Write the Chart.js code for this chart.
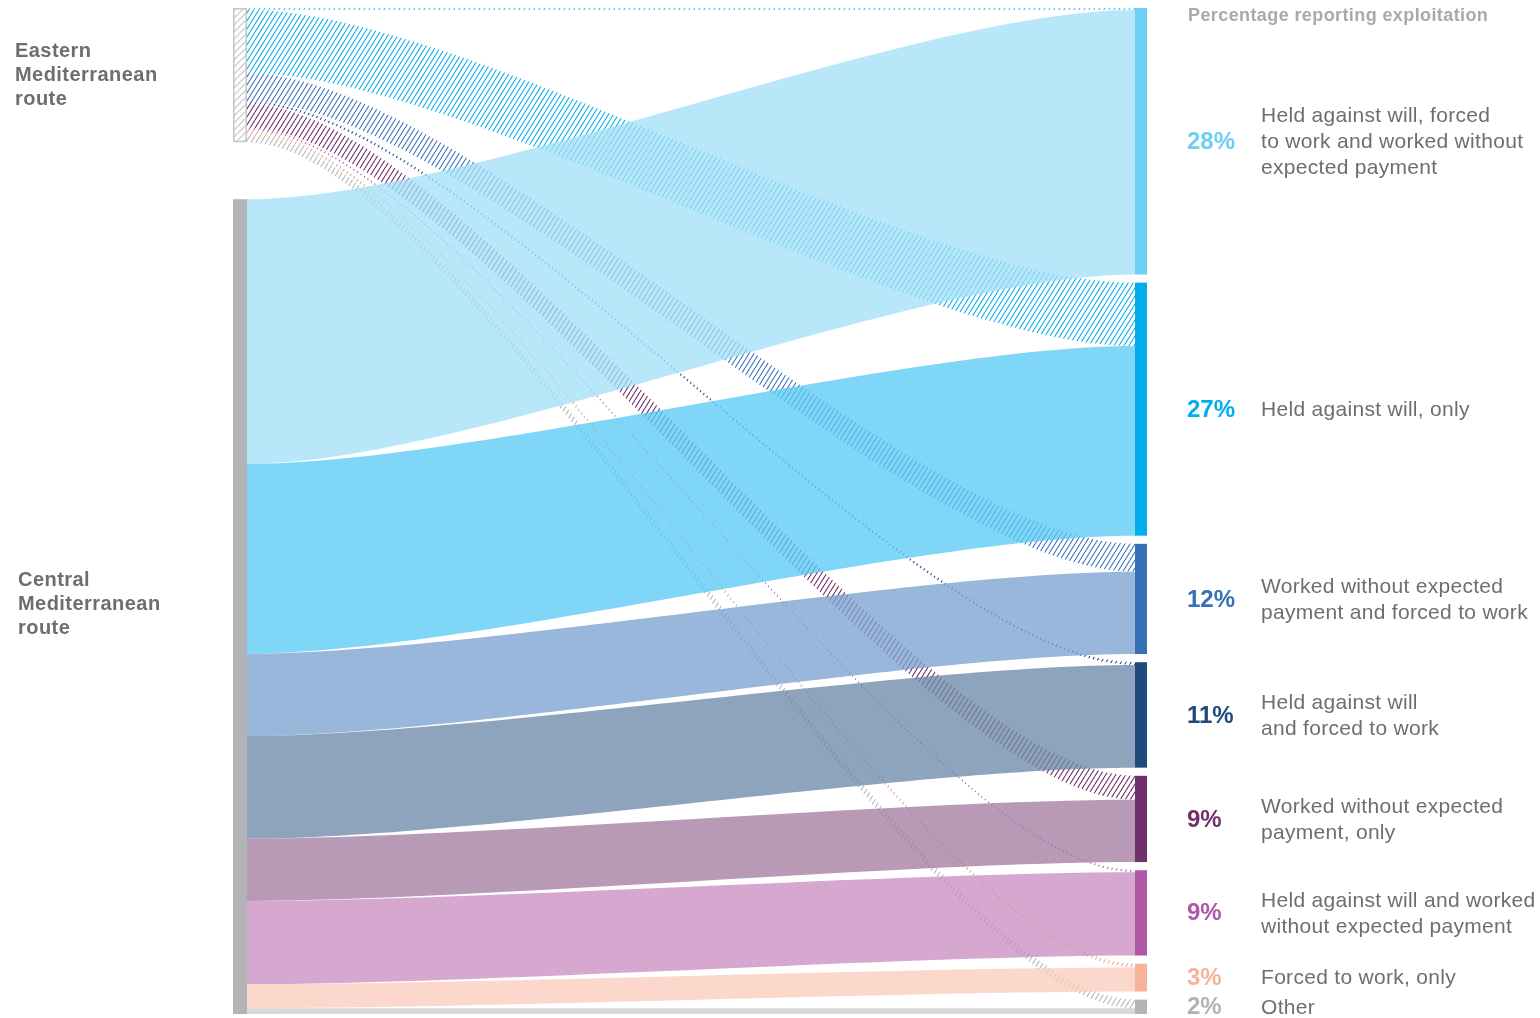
<!DOCTYPE html>
<html><head><meta charset="utf-8">
<script src="https://cdn.jsdelivr.net/npm/chart.js@4.4.0/dist/chart.umd.min.js"></script>
<style>html,body{margin:0;padding:0;background:#fff;overflow:hidden}#wrap{width:1540px;height:1018px;position:relative}</style>
</head><body><div id="wrap"><canvas id="c" width="1540" height="1018"></canvas></div>
<script>
// ---------- DATA ----------
const routes = ['Eastern Mediterranean route', 'Central Mediterranean route'];
const routeLabelLines = [['Eastern', 'Mediterranean', 'route'], ['Central', 'Mediterranean', 'route']];
const categories = [
  'Held against will, forced to work and worked without expected payment',
  'Held against will, only',
  'Worked without expected payment and forced to work',
  'Held against will and forced to work',
  'Worked without expected payment, only',
  'Held against will and worked without expected payment',
  'Forced to work, only',
  'Other'
];
const categoryLines = [
  ['Held against will, forced', 'to work and worked without', 'expected payment'],
  ['Held against will, only'],
  ['Worked without expected', 'payment and forced to work'],
  ['Held against will', 'and forced to work'],
  ['Worked without expected', 'payment, only'],
  ['Held against will and worked', 'without expected payment'],
  ['Forced to work, only'],
  ['Other']
];
const pctLabels = ['28%', '27%', '12%', '11%', '9%', '9%', '3%', '2%'];
// share of all respondents (percentage points) flowing from each route to each category
const easternFlows = [0.2, 6.6, 2.9, 0.3, 2.5, 0.2, 0.4, 0.9];
const centralFlows = [27.6, 19.8, 8.6, 10.7, 6.5, 8.7, 2.5, 0.6];
const titleText = 'Percentage reporting exploitation';

// ---------- STYLE ----------
const nodeColors = ['#6dcff6', '#00aeef', '#3471b6', '#1f4a7d', '#71306b', '#ae58a6', '#f7b397', '#b1b3b6'];
const flowColors = ['#b7e7f9', '#7fd6f7', '#98b7da', '#8ea3bc', '#b899b6', '#d6a8d0', '#fbd8cb', '#d8d9db'];
const hatchColors = ['#45c3f3', '#0aaeec', '#3a72b8', '#244f84', '#6e2d66', '#b05aa8', '#f4a98a', '#b4b6b9'];
const flowAlpha = 0.78;
const rightGap = 0.85;   // gap between category nodes (value units)
const leftNodeW = 14, rightNodeW = 12;
const curveD = 0.25;

const easternSum = easternFlows.reduce((a, b) => a + b, 0);
const centralSum = centralFlows.reduce((a, b) => a + b, 0);
const rightTotals = easternFlows.map((v, i) => v + centralFlows[i]);
const yMax = rightTotals.reduce((a, b) => a + b, 0) + rightGap * (rightTotals.length - 1);

// colour that, drawn with alpha a over white, appears as hex
function seeThrough(hex, a) {
  const n = parseInt(hex.slice(1), 16);
  const ch = [(n >> 16) & 255, (n >> 8) & 255, n & 255].map(v => Math.max(0, Math.round((v - 255 * (1 - a)) / a)));
  return `rgba(${ch[0]},${ch[1]},${ch[2]},${a})`;
}

function hatchPattern(ctx, color, w, h, lw) {
  const c = document.createElement('canvas');
  c.width = w; c.height = h;
  const g = c.getContext('2d');
  g.strokeStyle = color; g.lineWidth = lw;
  g.beginPath();
  for (const dx of [-w, 0, w]) { g.moveTo(dx, h); g.lineTo(dx + w, 0); }
  g.stroke();
  return ctx.createPattern(c, 'repeat');
}

function flowPath(ctx, x0, y0t, y0b, x1, y1t, y1b) {
  const L = x1 - x0;
  const c0 = x0 + L * curveD, c1 = x1 - L * curveD;
  ctx.beginPath();
  ctx.moveTo(x0, y0t);
  ctx.bezierCurveTo(c0, y0t, c1, y1t, x1, y1t);
  ctx.lineTo(x1, y1b);
  ctx.bezierCurveTo(c1, y1b, c0, y0b, x0, y0b);
  ctx.closePath();
}

function multiline(ctx, lines, x, c, lh) {
  lines.forEach((ln, j) => ctx.fillText(ln, x, c + (j - (lines.length - 1) / 2) * lh));
}

const sankeyPlugin = {
  id: 'sankey',
  afterDraw(chart) {
    const ctx = chart.ctx;
    const sx = chart.scales.x, sy = chart.scales.y;
    const xL0 = sx.getPixelForValue(0), xL1 = xL0 + leftNodeW;
    const xR1 = sx.getPixelForValue(1), xR0 = xR1 - rightNodeW;
    const Y = v => sy.getPixelForValue(v);

    const eastTop = 0, centralTop = yMax - centralSum;
    const rightTop = [];
    let acc = 0;
    rightTotals.forEach(t => { rightTop.push(acc); acc += t + rightGap; });

    ctx.save();
    // eastern flows (hatched) underneath
    let le = eastTop;
    easternFlows.forEach((v, i) => {
      const rt = rightTop[i];
      flowPath(ctx, xL1, Y(le), Y(le + v), xR0, Y(rt), Y(rt + v));
      ctx.fillStyle = hatchPattern(ctx, hatchColors[i], 5, 8, 1.1);
      ctx.fill();
      le += v;
    });
    // central flows (translucent solid) on top
    let lc = centralTop;
    centralFlows.forEach((v, i) => {
      const rt = rightTop[i] + easternFlows[i];
      flowPath(ctx, xL1, Y(lc), Y(lc + v), xR0, Y(rt), Y(rt + v));
      ctx.fillStyle = seeThrough(flowColors[i], flowAlpha);
      ctx.fill();
      lc += v;
    });

    // left nodes
    const ey0 = Y(eastTop), ey1 = Y(eastTop + easternSum);
    ctx.fillStyle = '#fff';
    ctx.fillRect(xL0, ey0, leftNodeW, ey1 - ey0);
    ctx.fillStyle = hatchPattern(ctx, '#c4c5c7', 7, 7, 1.2);
    ctx.fillRect(xL0, ey0, leftNodeW, ey1 - ey0);
    ctx.strokeStyle = '#c4c5c7'; ctx.lineWidth = 1.5;
    ctx.strokeRect(xL0 + 0.75, ey0 + 0.75, leftNodeW - 1.5, ey1 - ey0 - 1.5);
    const cy0 = Y(centralTop), cy1 = Y(yMax);
    ctx.fillStyle = '#b1b3b6';
    ctx.fillRect(xL0, cy0, leftNodeW, cy1 - cy0);

    // right nodes
    rightTotals.forEach((t, i) => {
      const y0 = Y(rightTop[i]), y1 = Y(rightTop[i] + t);
      ctx.fillStyle = nodeColors[i];
      ctx.fillRect(xR0, y0, rightNodeW, y1 - y0);
    });

    // left labels
    ctx.textBaseline = 'middle';
    ctx.textAlign = 'left';
    ctx.fillStyle = '#6d6e71';
    ctx.font = 'bold 20px "Liberation Sans", Arial, sans-serif';
    ctx.letterSpacing = '0.45px';
    multiline(ctx, routeLabelLines[0], 15, (ey0 + ey1) / 2, 24);
    multiline(ctx, routeLabelLines[1], 18, (cy0 + cy1) / 2 - 2, 24);

    // title
    ctx.fillStyle = '#a7a9ac';
    ctx.font = 'bold 18px "Liberation Sans", Arial, sans-serif';
    ctx.letterSpacing = '0.4px';
    ctx.fillText(titleText, 1188, 16);

    // right labels
    rightTotals.forEach((t, i) => {
      const c = (Y(rightTop[i]) + Y(rightTop[i] + t)) / 2;
      ctx.fillStyle = nodeColors[i];
      ctx.font = 'bold 24px "Liberation Sans", Arial, sans-serif';
      ctx.letterSpacing = '0px';
      ctx.fillText(pctLabels[i], 1187, c + 1);
      ctx.fillStyle = '#6d6e71';
      ctx.font = '21px "Liberation Sans", Arial, sans-serif';
      ctx.letterSpacing = '0.3px';
      multiline(ctx, categoryLines[i], 1261, c + 1, 26);
    });
    ctx.restore();
  }
};

new Chart(document.getElementById('c'), {
  type: 'scatter',
  data: { datasets: [{ label: 'flows', data: [] }] },
  options: {
    responsive: false,
    animation: false,
    layout: { padding: { left: 233, right: 393, top: 8, bottom: 4 } },
    scales: {
      x: { type: 'linear', min: 0, max: 1, display: false },
      y: { type: 'linear', min: 0, max: yMax, reverse: true, display: false }
    },
    plugins: { legend: { display: false }, tooltip: { enabled: false } }
  },
  plugins: [sankeyPlugin]
});
</script>
</body></html>
